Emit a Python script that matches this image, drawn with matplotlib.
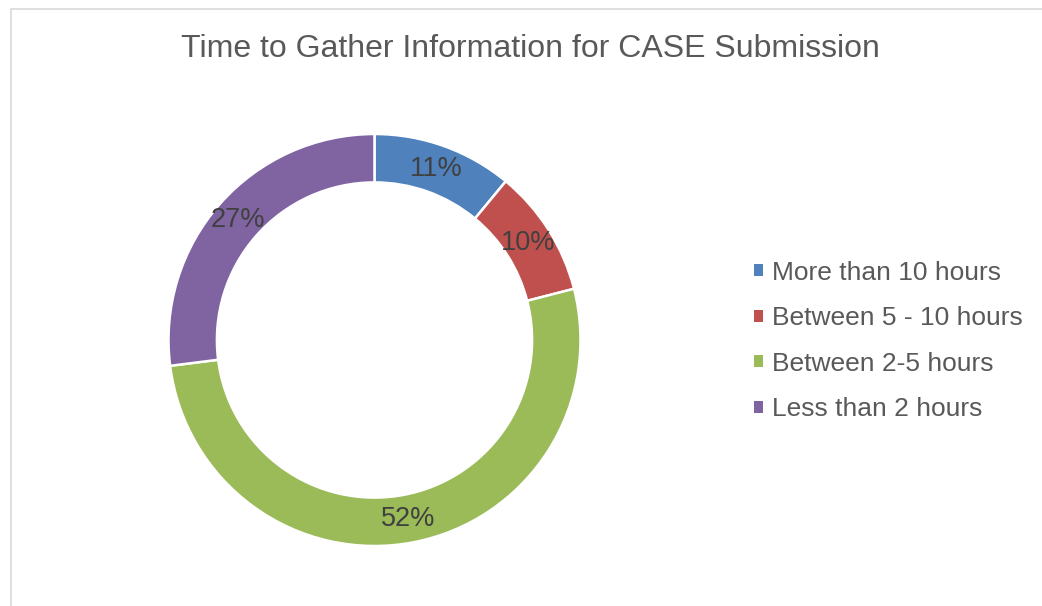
import matplotlib.pyplot as plt
from matplotlib.patches import Patch, Rectangle

plt.rcParams['font.family'] = ['Liberation Sans', 'DejaVu Sans']

# Data
categories = ['More than 10 hours', 'Between 5 - 10 hours', 'Between 2-5 hours', 'Less than 2 hours']
shares = [11, 10, 52, 27]
colors = ['#4f81bd', '#c0504d', '#9bbb59', '#8064a2']

W, H = 1042, 606
fig = plt.figure(figsize=(W / 100, H / 100), dpi=100)

# donut centre (374, 340) px, radius 206 px
cx, cy, r = 374.5, 340, 206
ax = fig.add_axes([(cx - r) / W, (H - cy - r) / H, 2 * r / W, 2 * r / H])

wedges, texts, autotexts = ax.pie(
    shares, colors=colors, startangle=90, counterclock=False, radius=1,
    autopct='%1.0f%%', pctdistance=0.883,
    wedgeprops=dict(width=0.235, edgecolor='white', linewidth=1.8),
    textprops=dict(color='#404040', fontsize=19.5))
ax.set_xlim(-1, 1)
ax.set_ylim(-1, 1)
ax.set_aspect('auto')
ax.axis('off')

fig.text(530 / W, 1 - 49 / H, 'Time to Gather Information for CASE Submission',
         ha='center', va='center', fontsize=23, color='#595959')

handles = [Patch(facecolor=c, edgecolor='none') for c in colors]
fig.legend(handles, categories, loc='center left', bbox_to_anchor=(754 / W, 1 - 341 / H),
           frameon=False, fontsize=19, labelcolor='#595959',
           handlelength=0.33, handleheight=0.33, handletextpad=0.35,
           labelspacing=0.82, borderpad=0, borderaxespad=0)

# chart area border (cropped at right/bottom)
fig.add_artist(Rectangle((10.5 / W, -0.1), 2, (H - 8.5) / H + 0.1,
                         transform=fig.transFigure, fill=False,
                         edgecolor='#d9d9d9', linewidth=1.2))

fig.savefig('out.png', dpi=100)
